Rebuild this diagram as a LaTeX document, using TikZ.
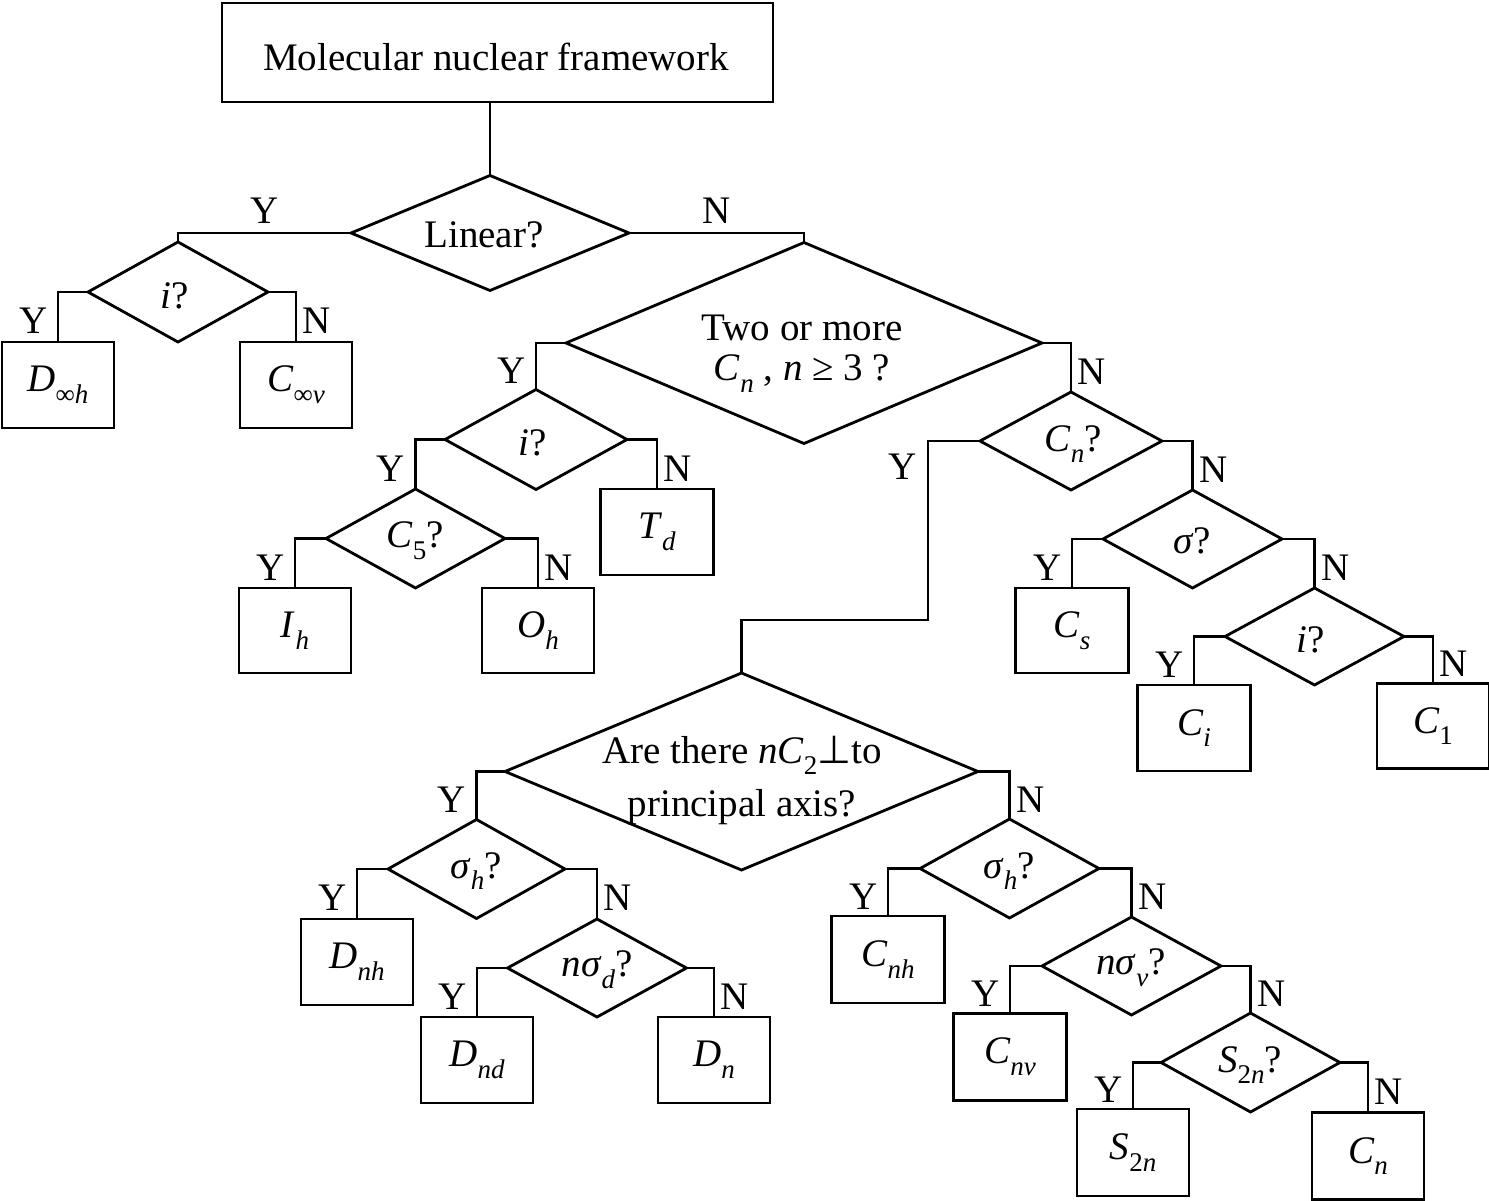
\documentclass[tikz,border=0pt]{standalone}
\usepackage{fontspec}
\setmainfont{Liberation Serif}
\newfontfamily\dejavu{DejaVu Sans}
\usetikzlibrary{shapes.geometric}
\newcommand\lsub[1]{\raisebox{-0.3em}{\fontsize{27}{30}\selectfont #1}}
\newcommand\bigfs{\fontsize{39}{44}\selectfont}
\tikzset{
  dia/.style={draw, diamond, inner sep=0pt, outer sep=0pt, line width=2.8pt},
  box/.style={draw, rectangle, inner sep=0pt, outer sep=0pt, line width=2.8pt},
  txt/.style={inner sep=0pt, align=center},
  conn/.style={line width=2.8pt},
  ylab/.style={anchor=east, inner sep=0pt, xshift=-9pt, yshift=-4pt},
  nlab/.style={anchor=west, inner sep=0pt, xshift=5.5pt, yshift=-4pt},
  hlab/.style={anchor=south, inner sep=0pt, yshift=8pt},
}
\begin{document}
\begin{tikzpicture}[x=1pt,y=-1pt,font=\bigfs]
\useasboundingbox (0,0) rectangle (1489,1201);
% boxes and diamonds
\node[box, minimum width=551pt, minimum height=99pt] (top) at (497.5,52.5) {};
\node[txt] (toptxt) at (496,57) {Molecular nuclear framework};
\node[dia, minimum width=278pt, minimum height=115pt] (lin) at (490,233) {};
\node[txt] (lintxt) at (484,235) {Linear?};
\node[dia, minimum width=180pt, minimum height=100pt] (i1) at (178,292) {};
\node[txt] (i1txt) at (175,296) {\textit{i}?};
\node[box, minimum width=112pt, minimum height=86pt] (dinf) at (58,385) {\textit{D}\lsub{∞\textit{h}}};
\node[box, minimum width=112pt, minimum height=86pt] (cinf) at (296,385) {\textit{C}\lsub{∞\textit{v}}};
\node[dia, minimum width=476pt, minimum height=201pt] (two) at (804,343) {};
\node[txt, font=\fontsize{39}{40}\selectfont] (twotxt) at (802,354) {Two or more\\ \textit{C}\lsub{\textit{n}} , \textit{n} ≥ 3 ?};
\node[dia, minimum width=182pt, minimum height=100pt] (i2) at (536,439.5) {};
\node[txt] (i2txt) at (533,443) {\textit{i}?};
\node[dia, minimum width=179pt, minimum height=99pt] (c5) at (415.5,538.5) {};
\node[txt] (c5txt) at (415,541) {\textit{C}\lsub{5}?};
\node[box, minimum width=112pt, minimum height=85pt] (ih) at (295,630.5) {\textit{I}\lsub{\textit{h}}};
\node[box, minimum width=112pt, minimum height=85pt] (oh) at (538,630.5) {\textit{O}\lsub{\textit{h}}};
\node[box, minimum width=113pt, minimum height=86pt] (td) at (657,532) {\textit{T}\lsub{\textit{d}}};
\node[dia, minimum width=182pt, minimum height=98pt] (cnq) at (1071,441) {};
\node[txt] (cnqtxt) at (1073,444) {\textit{C}\lsub{\textit{n}}?};
\node[dia, minimum width=179pt, minimum height=98pt] (sig) at (1192.5,539) {};
\node[txt] (sigtxt) at (1192,541) {\textit{σ}?};
\node[box, minimum width=113pt, minimum height=85pt] (cs) at (1072,630.5) {\textit{C}\lsub{\textit{s}}};
\node[dia, minimum width=179pt, minimum height=97pt] (i3) at (1314.5,636.5) {};
\node[txt] (i3txt) at (1311,640) {\textit{i}?};
\node[box, minimum width=113pt, minimum height=86pt] (ci) at (1194,728) {\textit{C}\lsub{\textit{i}}};
\node[box, minimum width=112pt, minimum height=85pt] (c1) at (1433,726) {\textit{C}\lsub{1}};
\node[dia, minimum width=473pt, minimum height=197pt] (big) at (741.5,771.5) {};
\node[txt, font=\fontsize{39}{53}\selectfont] (bigtxt) at (742,780) {Are there \textit{nC}\lsub{2}{\dejavu ⊥}to\\principal axis?};
\node[dia, minimum width=177pt, minimum height=99pt] (shl) at (476.5,869) {};
\node[txt] (shltxt) at (476,871) {\textit{σ}\lsub{\textit{h}}?};
\node[box, minimum width=112pt, minimum height=86pt] (dnh) at (357,962) {\textit{D}\lsub{\textit{nh}}};
\node[dia, minimum width=179pt, minimum height=98pt] (nsd) at (597,968) {};
\node[txt] (nsdtxt) at (597,970) {\textit{nσ}\lsub{\textit{d}}?};
\node[box, minimum width=112pt, minimum height=86pt] (dnd) at (477,1060) {\textit{D}\lsub{\textit{nd}}};
\node[box, minimum width=112pt, minimum height=86pt] (dn) at (714,1060) {\textit{D}\lsub{\textit{n}}};
\node[dia, minimum width=179pt, minimum height=99pt] (shr) at (1009.5,868.5) {};
\node[txt] (shrtxt) at (1009,871) {\textit{σ}\lsub{\textit{h}}?};
\node[box, minimum width=113pt, minimum height=87pt] (cnh) at (888,959.5) {\textit{C}\lsub{\textit{nh}}};
\node[dia, minimum width=179pt, minimum height=98pt] (nsv) at (1131.5,966) {};
\node[txt] (nsvtxt) at (1131,968) {\textit{nσ}\lsub{\textit{v}}?};
\node[box, minimum width=113pt, minimum height=87pt] (cnv) at (1010,1057) {\textit{C}\lsub{\textit{nv}}};
\node[dia, minimum width=179pt, minimum height=99pt] (s2q) at (1250.5,1062.5) {};
\node[txt] (s2qtxt) at (1250,1065) {\textit{S}\lsub{2\textit{n}}?};
\node[box, minimum width=112pt, minimum height=87pt] (s2n) at (1133,1152.5) {\textit{S}\lsub{2\textit{n}}};
\node[box, minimum width=112pt, minimum height=87pt] (cn) at (1368,1156) {\textit{C}\lsub{\textit{n}}};
\coordinate (bend) at (928,620);
% connectors
\draw[conn] (lin.north) -- (lin.north |- top.south);
\draw[conn] (lin.west) -| node[hlab, pos=0.25] (l1) {Y} (i1.north);
\draw[conn] (lin.east) -| node[hlab, pos=0.25] (l2) {N} (two.north);
\draw[conn] (i1.west) -| node[ylab, pos=0.75] (l3) {Y} (dinf.north);
\draw[conn] (i1.east) -| node[nlab, pos=0.75] (l4) {N} (cinf.north);
\draw[conn] (two.west) -| node[ylab, pos=0.75] (l5) {Y} (i2.north);
\draw[conn] (two.east) -| node[nlab, pos=0.75] (l6) {N} (cnq.north);
\draw[conn] (i2.west) -| node[ylab, pos=0.75] (l7) {Y} (c5.north);
\draw[conn] (i2.east) -| node[nlab, pos=0.75] (l8) {N} (td.north);
\draw[conn] (c5.west) -| node[ylab, pos=0.75] (l9) {Y} (ih.north);
\draw[conn] (c5.east) -| node[nlab, pos=0.75] (l10) {N} (oh.north);
\draw[conn] (cnq.west) -| (bend) -| (big.north);
\node[inner sep=0pt] (l11) at (903,467) {Y};
\draw[conn] (cnq.east) -| node[nlab, pos=0.75] (l12) {N} (sig.north);
\draw[conn] (sig.west) -| node[ylab, pos=0.75] (l13) {Y} (cs.north);
\draw[conn] (sig.east) -| node[nlab, pos=0.75] (l14) {N} (i3.north);
\draw[conn] (i3.west) -| node[ylab, pos=0.75] (l15) {Y} (ci.north);
\draw[conn] (i3.east) -| node[nlab, pos=0.75] (l16) {N} (c1.north);
\draw[conn] (big.west) -| node[ylab, pos=0.75] (l17) {Y} (shl.north);
\draw[conn] (big.east) -| node[nlab, pos=0.75] (l18) {N} (shr.north);
\draw[conn] (shl.west) -| node[ylab, pos=0.75] (l19) {Y} (dnh.north);
\draw[conn] (shl.east) -| node[nlab, pos=0.75] (l20) {N} (nsd.north);
\draw[conn] (nsd.west) -| node[ylab, pos=0.75] (l21) {Y} (dnd.north);
\draw[conn] (nsd.east) -| node[nlab, pos=0.75] (l22) {N} (dn.north);
\draw[conn] (shr.west) -| node[ylab, pos=0.75] (l23) {Y} (cnh.north);
\draw[conn] (shr.east) -| node[nlab, pos=0.75] (l24) {N} (nsv.north);
\draw[conn] (nsv.west) -| node[ylab, pos=0.75] (l25) {Y} (cnv.north);
\draw[conn] (nsv.east) -| node[nlab, pos=0.75] (l26) {N} (s2q.north);
\draw[conn] (s2q.west) -| node[ylab, pos=0.75] (l27) {Y} (s2n.north);
\draw[conn] (s2q.east) -| node[nlab, pos=0.75] (l28) {N} (cn.north);
\end{tikzpicture}
\end{document}
